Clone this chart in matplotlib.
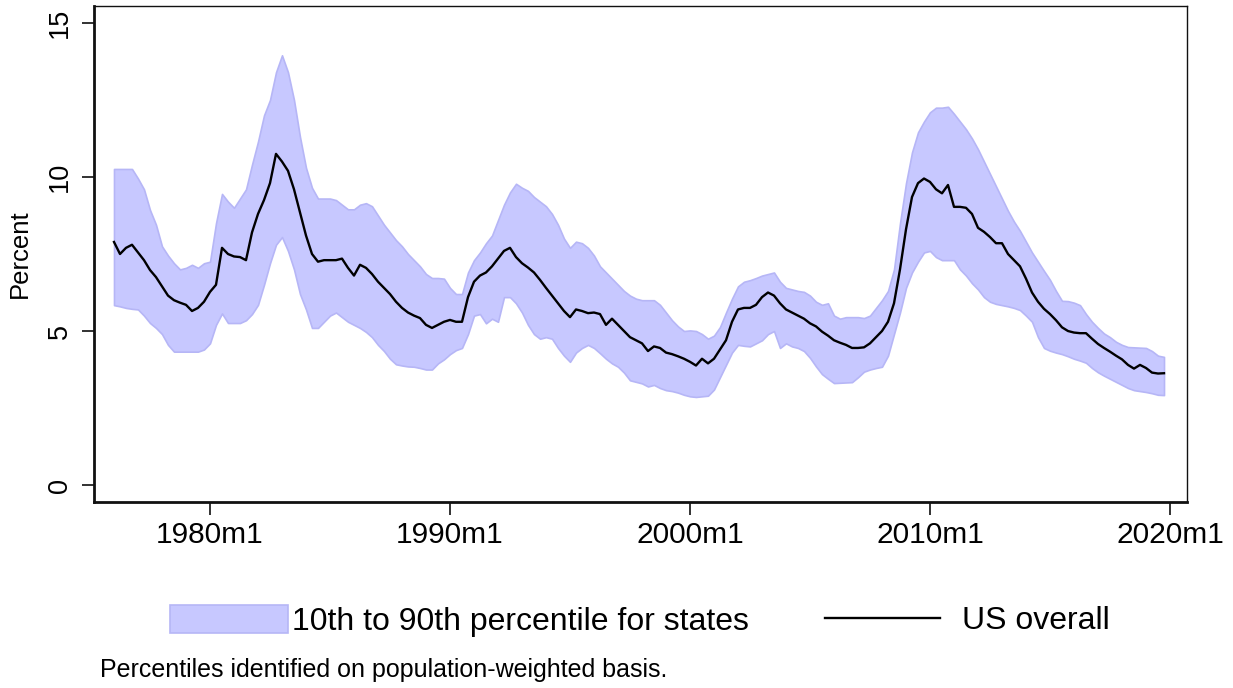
import matplotlib
matplotlib.use("Agg")
import matplotlib.pyplot as plt
from matplotlib.patches import Patch
from matplotlib.lines import Line2D
import numpy as np

plt.rcParams['font.family'] = ['Liberation Sans', 'DejaVu Sans']

# Quarterly observations, 1976m1 .. 2019m10 (Stata monthly index, 1960m1 = 0)
start_month = 192  # 1976m1
step = 3
p90 = [10.26, 10.26, 10.26, 10.26, 9.95, 9.6, 8.93, 8.45, 7.75, 7.45,
       7.2, 7.0, 7.05, 7.15, 7.05, 7.2, 7.25, 8.5, 9.45, 9.2,
       9.0, 9.3, 9.6, 10.4, 11.15, 12.0, 12.5, 13.4, 13.95, 13.4,
       12.5, 11.3, 10.3, 9.65, 9.3, 9.3, 9.3, 9.25, 9.1, 8.95,
       8.95, 9.1, 9.15, 9.05, 8.75, 8.45, 8.2, 7.95, 7.75, 7.5,
       7.3, 7.1, 6.85, 6.72, 6.72, 6.7, 6.4, 6.2, 6.2, 6.9,
       7.3, 7.55, 7.85, 8.1, 8.6, 9.1, 9.5, 9.78, 9.65, 9.55,
       9.35, 9.2, 9.05, 8.8, 8.45, 8.0, 7.7, 7.9, 7.85, 7.7,
       7.45, 7.1, 6.9, 6.7, 6.5, 6.3, 6.15, 6.05, 6.0, 6.0,
       6.0, 5.85, 5.6, 5.35, 5.15, 5.0, 5.02, 5.0, 4.9, 4.75,
       4.85, 5.13, 5.6, 6.05, 6.45, 6.6, 6.65, 6.72, 6.8, 6.85,
       6.9, 6.6, 6.4, 6.35, 6.3, 6.27, 6.15, 5.95, 5.85, 5.9,
       5.5, 5.4, 5.45, 5.45, 5.45, 5.42, 5.5, 5.75, 6.0, 6.3,
       7.0, 8.5, 9.8, 10.8, 11.45, 11.8, 12.1, 12.25, 12.25, 12.28,
       12.05, 11.8, 11.55, 11.25, 10.9, 10.5, 10.1, 9.7, 9.3, 8.9,
       8.55, 8.25, 7.9, 7.55, 7.25, 6.95, 6.66, 6.3, 5.98, 5.97,
       5.92, 5.84, 5.55, 5.3, 5.1, 4.92, 4.8, 4.65, 4.55, 4.48,
       4.47, 4.46, 4.45, 4.35, 4.2, 4.16]
p10 = [5.84, 5.8, 5.75, 5.72, 5.7, 5.5, 5.26, 5.1, 4.9, 4.55,
       4.33, 4.33, 4.33, 4.33, 4.33, 4.4, 4.6, 5.2, 5.57, 5.26,
       5.26, 5.26, 5.35, 5.55, 5.85, 6.5, 7.2, 7.8, 8.05, 7.6,
       7.0, 6.2, 5.7, 5.1, 5.1, 5.3, 5.5, 5.6, 5.45, 5.3,
       5.2, 5.1, 4.97, 4.8, 4.55, 4.35, 4.1, 3.92, 3.88, 3.85,
       3.84, 3.8, 3.75, 3.75, 3.95, 4.08, 4.25, 4.38, 4.45, 4.9,
       5.5, 5.55, 5.25, 5.4, 5.3, 6.1, 6.1, 5.9, 5.6, 5.2,
       4.9, 4.75, 4.8, 4.75, 4.45, 4.2, 4.0, 4.3, 4.45, 4.55,
       4.45, 4.28, 4.1, 3.95, 3.84, 3.65, 3.4, 3.35, 3.3, 3.2,
       3.25, 3.15, 3.08, 3.05, 3.0, 2.93, 2.88, 2.86, 2.88, 2.9,
       3.1, 3.5, 3.9, 4.3, 4.55, 4.52, 4.5, 4.6, 4.7, 4.9,
       5.0, 4.45, 4.6, 4.5, 4.45, 4.35, 4.13, 3.85, 3.6, 3.45,
       3.31, 3.32, 3.33, 3.34, 3.5, 3.68, 3.75, 3.8, 3.84, 4.2,
       4.9, 5.6, 6.4, 6.9, 7.25, 7.55, 7.6, 7.4, 7.3, 7.3,
       7.3, 7.0, 6.8, 6.55, 6.35, 6.1, 5.95, 5.88, 5.84, 5.8,
       5.75, 5.68, 5.5, 5.3, 4.8, 4.45, 4.36, 4.3, 4.25, 4.18,
       4.1, 4.04, 3.97, 3.8, 3.66, 3.55, 3.45, 3.35, 3.25, 3.15,
       3.08, 3.05, 3.02, 2.98, 2.93, 2.92]
us_overall = [7.89, 7.5, 7.7, 7.8, 7.55, 7.3, 6.98, 6.75, 6.45, 6.15,
              6.0, 5.92, 5.85, 5.65, 5.75, 5.95, 6.27, 6.5, 7.7, 7.5,
              7.42, 7.4, 7.3, 8.2, 8.8, 9.25, 9.8, 10.75, 10.5, 10.2,
              9.6, 8.85, 8.1, 7.5, 7.25, 7.3, 7.3, 7.3, 7.35, 7.05,
              6.8, 7.15, 7.05, 6.85, 6.6, 6.4, 6.2, 5.95, 5.75, 5.6,
              5.5, 5.42, 5.2, 5.1, 5.2, 5.3, 5.36, 5.3, 5.3, 6.1,
              6.6, 6.8, 6.9, 7.1, 7.35, 7.6, 7.7, 7.4, 7.2, 7.06,
              6.9, 6.66, 6.4, 6.15, 5.9, 5.65, 5.45, 5.7, 5.65, 5.58,
              5.6, 5.55, 5.2, 5.4, 5.2, 5.0, 4.8, 4.7, 4.6, 4.35,
              4.5, 4.45, 4.3, 4.25, 4.18, 4.1, 4.0, 3.88, 4.1, 3.95,
              4.1, 4.4, 4.7, 5.3, 5.7, 5.75, 5.75, 5.85, 6.1, 6.25,
              6.15, 5.9, 5.7, 5.6, 5.5, 5.4, 5.25, 5.15, 4.98, 4.85,
              4.7, 4.62, 4.55, 4.45, 4.45, 4.47, 4.6, 4.8, 5.0, 5.3,
              5.9, 7.0, 8.3, 9.35, 9.8, 9.95, 9.84, 9.6, 9.47, 9.74,
              9.03, 9.03, 9.0, 8.8, 8.35, 8.22, 8.05, 7.85, 7.85, 7.5,
              7.3, 7.1, 6.7, 6.25, 5.95, 5.72, 5.55, 5.35, 5.12, 5.0,
              4.95, 4.93, 4.93, 4.75, 4.58, 4.45, 4.33, 4.2, 4.08, 3.9,
              3.78, 3.9, 3.8, 3.65, 3.62, 3.63]

tick_months = [240, 360, 480, 600, 720]
tick_labels = ["1980m1", "1990m1", "2000m1", "2010m1", "2020m1"]
y_ticks = [0, 5, 10, 15]

months = start_month + step * np.arange(len(p90))

W, H = 1233, 688
fig = plt.figure(figsize=(W / 100, H / 100), dpi=100)
ax = fig.add_axes([94 / W, 1 - 502 / H, (1187 - 94) / W, (502 - 6) / H])

band_face = '#c7c8ff'
band_edge = '#b6b6f6'
ax.fill_between(months, p10, p90, facecolor=band_face, edgecolor=band_edge,
                linewidth=1.2, zorder=1)
ax.plot(months, us_overall, color='black', linewidth=1.7, zorder=2)

ax.set_xlim(182, 728.5)
ax.set_ylim(-0.55, 15.55)
ax.set_xticks(tick_months)
ax.set_xticklabels(tick_labels, fontsize=21.5)
ax.set_yticks(y_ticks)
ax.set_yticklabels([str(v) for v in y_ticks], fontsize=19.5, rotation=90, va='center')
ax.tick_params(axis='both', direction='out', length=9, width=1.3, color='#222222')
ax.tick_params(axis='x', pad=5)
ax.tick_params(axis='y', pad=6)
ax.set_ylabel("Percent", fontsize=18.5, labelpad=11)

ax.spines['left'].set_linewidth(2.0)
ax.spines['bottom'].set_linewidth(2.0)
ax.spines['top'].set_linewidth(1.0)
ax.spines['right'].set_linewidth(1.0)
for s in ax.spines.values():
    s.set_color('#111111')

leg_fs = 23
fs_px = leg_fs * 100 / 72
leg_y = 1 - 621 / H
fig.legend([Patch(facecolor=band_face, edgecolor=band_edge, linewidth=1.2)],
           ["10th to 90th percentile for states"], loc='center left',
           bbox_to_anchor=(170 / W, leg_y), frameon=False, fontsize=leg_fs,
           handlelength=118 / fs_px, handleheight=30 / fs_px,
           handletextpad=4 / fs_px, borderpad=0, borderaxespad=0)
fig.legend([Line2D([0], [0], color='black', linewidth=1.7)],
           ["US overall"], loc='center left',
           bbox_to_anchor=(825 / W, leg_y), frameon=False, fontsize=leg_fs,
           handlelength=115 / fs_px, handletextpad=22 / fs_px,
           borderpad=0, borderaxespad=0)

fig.text(100 / W, 1 - 670 / H, "Percentiles identified on population-weighted basis.",
         fontsize=18, va='center', ha='left')

fig.savefig("out.png", dpi=100)
